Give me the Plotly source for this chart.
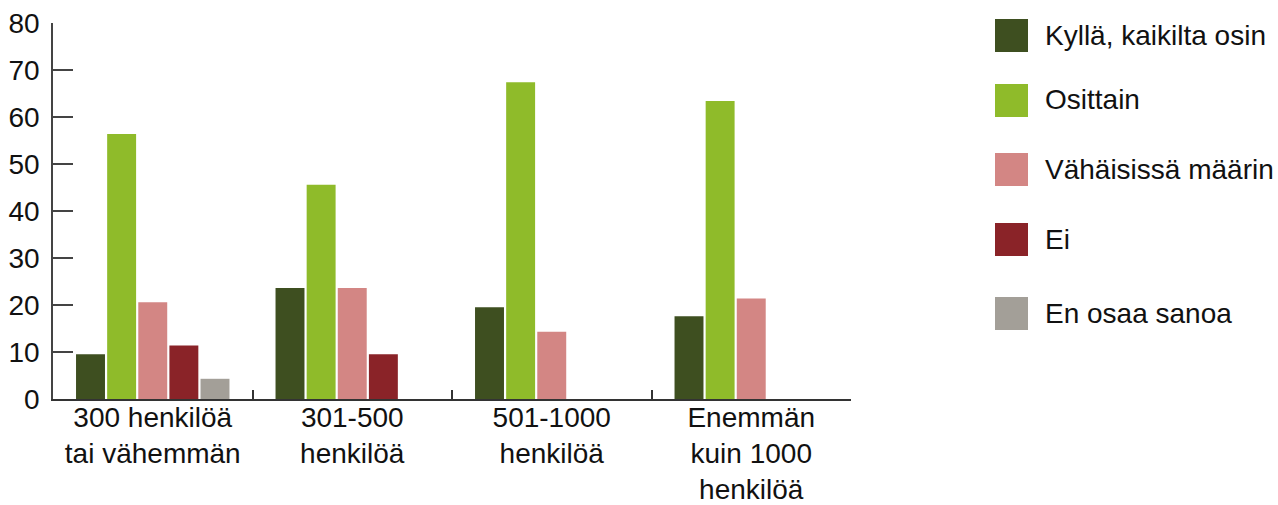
import plotly.graph_objects as go

# ── Data ──────────────────────────────────────────────────────────────────────
categories = [
    "300 henkilöä<br>tai vähemmän",
    "301-500<br>henkilöä",
    "501-1000<br>henkilöä",
    "Enemmän<br>kuin 1000<br>henkilöä",
]
series_names = ["Kyllä, kaikilta osin", "Osittain", "Vähäisissä määrin", "Ei", "En osaa sanoa"]
kylla = [9.5, 23.6, 19.5, 17.6]
osittain = [56.4, 45.6, 67.4, 63.4]
vahaisissa = [20.6, 23.6, 14.3, 21.4]
ei = [11.4, 9.5, 0, 0]
en_osaa = [4.3, 0, 0, 0]
y_ticks = [0, 10, 20, 30, 40, 50, 60, 70, 80]

COLORS = ["#3e4f20", "#8fbb2a", "#d38684", "#8a2328", "#a39f98"]
FONT = "Liberation Sans, Arial, sans-serif"
FS = 28

# ── Geometry (pixels) ─────────────────────────────────────────────────────────
W, H = 1278, 505
L, R, T, B = 53, 851, 23, 399   # plot area


def px_x(x):
    return (x - L) / (R - L)


def px_y(y):
    return (B - y) / (B - T)


fig = go.Figure()
for name, vals, col in zip(series_names, [kylla, osittain, vahaisissa, ei, en_osaa], COLORS):
    fig.add_trace(go.Bar(
        x=categories, y=vals, name=name,
        marker=dict(color=col, line_width=0),
        showlegend=False,
    ))

# ── Manual legend (large square swatches) ────────────────────────────────────
legend_tops = [19, 84, 153, 223, 297]
for name, col, top in zip(series_names, COLORS, legend_tops):
    fig.add_shape(
        type="rect", xref="paper", yref="paper",
        x0=px_x(995), x1=px_x(1028), y0=px_y(top + 33), y1=px_y(top),
        fillcolor=col, line_width=0,
    )
    fig.add_annotation(
        text=name, xref="paper", yref="paper",
        x=px_x(1043), y=px_y(top + 16), xanchor="left", yanchor="middle",
        showarrow=False, font=dict(family=FONT, size=FS, color="#111"),
    )

fig.update_layout(
    width=W, height=H,
    margin=dict(l=L, r=W - R, t=T, b=H - B, autoexpand=False),
    paper_bgcolor="white", plot_bgcolor="white",
    font=dict(family=FONT, size=FS, color="#111"),
    barmode="group", bargap=0.22, bargroupgap=0.07,
    showlegend=False,
)
fig.update_xaxes(
    type="category", tickson="boundaries", automargin=False,
    ticks="inside", ticklen=9, tickwidth=1.5, tickcolor="#333",
    showline=True, linecolor="#333", linewidth=2,
    showgrid=False, zeroline=False,
    ticklabelstandoff=-8,
    tickfont=dict(size=FS),
)
fig.update_yaxes(
    range=[0, 80], tickvals=y_ticks, automargin=False,
    ticks="inside", ticklen=20, tickwidth=1.5, tickcolor="#444",
    showline=True, linecolor="#444", linewidth=1.5,
    showgrid=False, zeroline=False,
    ticklabelstandoff=6,
    tickfont=dict(size=FS),
)

# the default page has an 8px body margin; drop it so the figure fills the window
fig.write_html(
    "out.html",
    config={"displayModeBar": False},
    post_script="document.body.style.margin='0';document.body.style.overflow='hidden';",
)
